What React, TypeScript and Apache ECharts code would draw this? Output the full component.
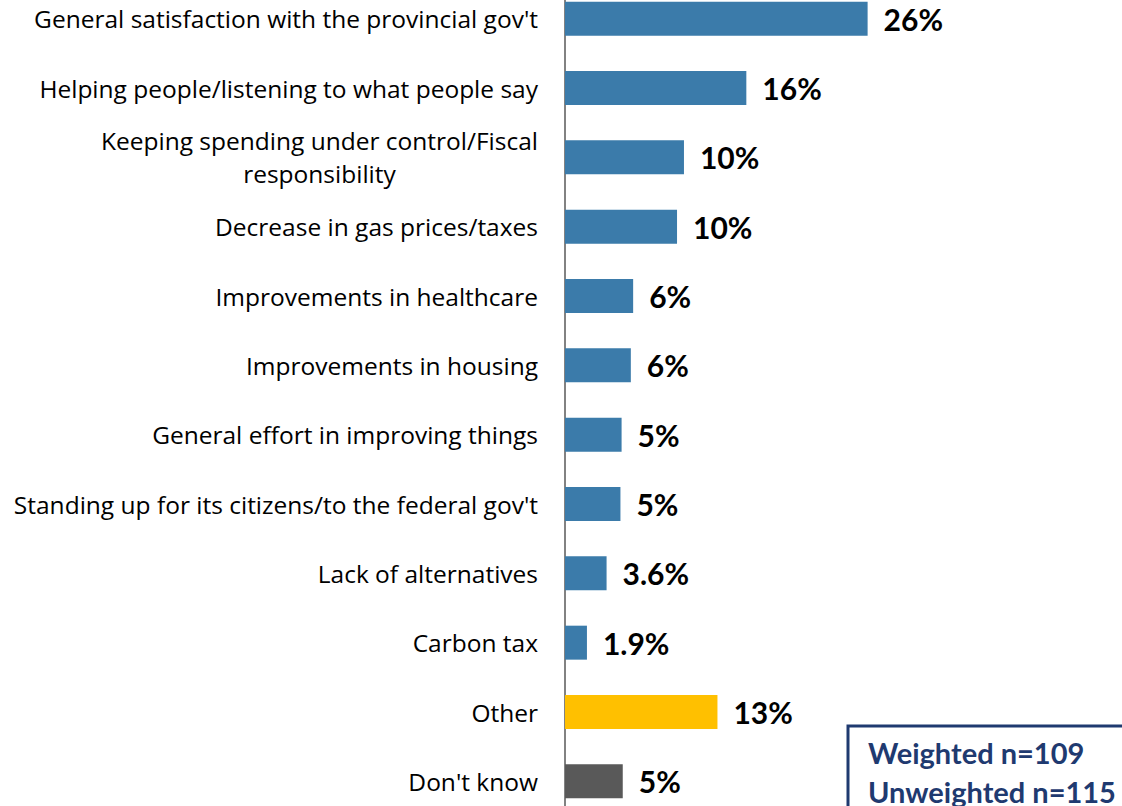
import React, { useEffect, useRef } from "react";
import * as echarts from "echarts";

const categories = [
  "General satisfaction with the provincial gov't",
  "Helping people/listening to what people say",
  "Keeping spending under control/Fiscal\nresponsibility",
  "Decrease in gas prices/taxes",
  "Improvements in healthcare",
  "Improvements in housing",
  "General effort in improving things",
  "Standing up for its citizens/to the federal gov't",
  "Lack of alternatives",
  "Carbon tax",
  "Other",
  "Don't know",
];
const values = [26.2, 15.7, 10.3, 9.7, 5.9, 5.7, 4.9, 4.8, 3.6, 1.9, 13.2, 5.0];
const valueLabels = ["26%", "16%", "10%", "10%", "6%", "6%", "5%", "5%", "3.6%", "1.9%", "13%", "5%"];
const barColors = [
  "#3B7BAA", "#3B7BAA", "#3B7BAA", "#3B7BAA", "#3B7BAA", "#3B7BAA",
  "#3B7BAA", "#3B7BAA", "#3B7BAA", "#3B7BAA", "#FFC000", "#595959",
];
const sampleLines = ["Weighted n=109", "Unweighted n=115"];

const LABEL_FONT = "'Open Sans'";
const LABEL_SIZE = 24.5;
const VALUE_FONT = "Lato";

function measure(text: string, font: string): number {
  const c = document.createElement("canvas").getContext("2d");
  if (!c) return text.length * 10;
  c.font = font;
  return c.measureText(text).width;
}

export default function App() {
  const ref = useRef<HTMLDivElement>(null);
  useEffect(() => {
    if (!ref.current) return;
    const chart = echarts.init(ref.current, undefined, { renderer: "svg" });
    const font = `${LABEL_SIZE}px ${LABEL_FONT}`;
    chart.setOption({
      animation: false,
      grid: { left: 565, right: 95, top: 0, bottom: 0, containLabel: false },
      xAxis: {
        type: "value",
        min: 0,
        max: 40,
        show: false,
      },
      yAxis: {
        type: "category",
        inverse: true,
        data: categories,
        axisLine: { show: true, lineStyle: { color: "#595959", width: 1.5 } },
        axisTick: { show: false },
        splitLine: { show: false },
        axisLabel: {
          margin: 27,
          color: "#000",
          fontFamily: LABEL_FONT,
          fontSize: LABEL_SIZE,
          lineHeight: 33,
          formatter: (v: string) => {
            if (v.indexOf("\n") < 0) return v;
            return v
              .split("\n")
              .map((l) => `{c|${l}}`)
              .join("\n");
          },
          rich: {
            c: {
              width: measure("Keeping spending under control/Fiscal", font),
              align: "center",
              fontFamily: LABEL_FONT,
              fontSize: LABEL_SIZE,
              lineHeight: 33,
              color: "#000",
            },
          },
        },
      },
      series: [
        {
          type: "bar",
          barWidth: "49%",
          data: values.map((v, i) => ({
            value: v,
            itemStyle: { color: barColors[i] },
          })),
          label: {
            show: true,
            position: "right",
            distance: 16,
            color: "#000",
            fontFamily: VALUE_FONT,
            fontWeight: "bold",
            fontSize: 30,
            formatter: (p: any) => valueLabels[p.dataIndex],
          },
        },
      ],
      graphic: [
        {
          type: "rect",
          shape: { x: 848, y: 742, width: 290, height: 120 },
          style: { fill: "#fff", stroke: "#1F3A70", lineWidth: 3 },
        },
        {
          type: "text",
          x: 868,
          y: 768,
          style: {
            text: sampleLines[0],
            fill: "#1F3A70",
            font: `bold 29px ${VALUE_FONT}`,
            textVerticalAlign: "middle",
          },
        },
        {
          type: "text",
          x: 868,
          y: 807,
          style: {
            text: sampleLines[1],
            fill: "#1F3A70",
            font: `bold 29px ${VALUE_FONT}`,
            textVerticalAlign: "middle",
          },
        },
      ],
    });
    return () => chart.dispose();
  }, []);
  return (
    <div
      ref={ref}
      style={{ position: "fixed", left: 0, top: -16, width: 1122, height: 832, background: "#fff" }}
    />
  );
}
